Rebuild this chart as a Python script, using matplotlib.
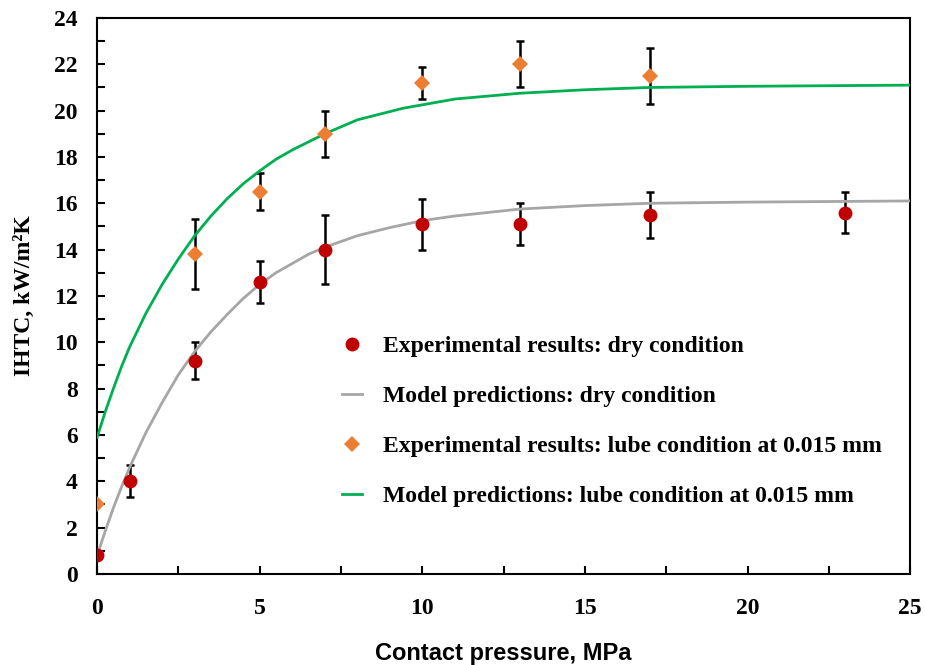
import matplotlib
matplotlib.use('Agg')
import matplotlib.pyplot as plt
from matplotlib.ticker import MultipleLocator

# experimental points: dry condition
dry_p = [0, 1, 3, 5, 7, 10, 13, 17, 23]
dry_h = [0.8, 4.0, 9.2, 12.6, 14.0, 15.1, 15.1, 15.5, 15.6]
dry_lo = [0.0, 0.7, 0.8, 0.9, 1.5, 1.1, 0.9, 1.0, 0.9]
dry_hi = [0.0, 0.7, 0.8, 0.9, 1.5, 1.1, 0.9, 1.0, 0.9]

# experimental points: lube condition
lube_p = [0, 3, 5, 7, 10, 13, 17]
lube_h = [3.0, 13.8, 16.5, 19.0, 21.2, 22.0, 21.5]
lube_err = [0.0, 1.5, 0.8, 1.0, 0.7, 1.0, 1.2]

# model curves
model_dry_p = [0, 0.25, 0.5, 0.75, 1, 1.5, 2, 2.5, 3, 3.5, 4, 4.5, 5, 5.5, 6, 6.5, 7, 8, 9,
               10, 11, 12, 13, 15, 17, 20, 25]
model_dry_h = [0.8, 1.85, 2.85, 3.75, 4.6, 6.1, 7.4, 8.6, 9.6, 10.45, 11.2, 11.9, 12.5,
               13.0, 13.4, 13.8, 14.1, 14.6, 14.95, 15.25, 15.45, 15.6, 15.75, 15.9, 16.0,
               16.05, 16.1]
model_lube_p = [0, 0.25, 0.5, 0.75, 1, 1.5, 2, 2.5, 3, 3.5, 4, 4.5, 5, 5.5, 6, 6.5, 7, 8,
                9.4, 10, 11, 13, 15, 17, 20, 25]
model_lube_h = [5.9, 7.0, 8.0, 8.95, 9.8, 11.25, 12.5, 13.6, 14.6, 15.45, 16.2, 16.85, 17.4,
                17.9, 18.3, 18.65, 19.0, 19.6, 20.1, 20.25, 20.5, 20.75, 20.9, 21.0, 21.05,
                21.1]

serif = 'Liberation Serif'

fig = plt.figure(figsize=(9.25, 6.65), dpi=100)
ax = fig.add_axes([0.105, 0.137, 0.879, 0.836])

ax.errorbar(dry_p, dry_h, yerr=[dry_lo, dry_hi], fmt='none', ecolor='black',
            elinewidth=1.8, capsize=3, capthick=1.8, zorder=2)
ax.errorbar(lube_p, lube_h, yerr=lube_err, fmt='none', ecolor='black',
            elinewidth=1.8, capsize=3, capthick=1.8, zorder=2)

ax.plot(dry_p, dry_h, 'o', color='#C00000', markersize=10, markeredgewidth=0,
        label='Experimental results: dry condition', zorder=4)
ax.plot(model_dry_p, model_dry_h, '-', color='#A6A6A6', linewidth=2,
        label='Model predictions: dry condition', zorder=3)
ax.plot(lube_p, lube_h, 'D', color='#ED7D31', markersize=8, markeredgewidth=0,
        label='Experimental results: lube condition at 0.015 mm', zorder=4)
ax.plot(model_lube_p, model_lube_h, '-', color='#00B050', linewidth=2,
        label='Model predictions: lube condition at 0.015 mm', zorder=3)

ax.set_xlim(0, 25)
ax.set_ylim(0, 24)
ax.xaxis.set_major_locator(MultipleLocator(5))
ax.xaxis.set_minor_locator(MultipleLocator(2.5))
ax.yaxis.set_major_locator(MultipleLocator(2))
ax.yaxis.set_minor_locator(MultipleLocator(1))
ax.tick_params(which='both', direction='in', length=6, width=1.5, top=False, right=False)
ax.tick_params(axis='x', pad=17)
ax.tick_params(axis='y', pad=14)
for lab in ax.get_xticklabels() + ax.get_yticklabels():
    lab.set_fontfamily(serif)
    lab.set_fontweight('bold')
    lab.set_fontsize(17)
for s in ax.spines.values():
    s.set_linewidth(1.5)

ax.set_xlabel('Contact pressure, MPa', fontfamily='Liberation Sans', fontweight='bold',
              fontsize=17, labelpad=17)
ax.set_ylabel('IHTC, kW/m²K', fontfamily=serif, fontweight='bold', fontsize=17, labelpad=14)

ax.legend(loc='upper left', bbox_to_anchor=(0.301, 0.428), frameon=False,
          prop={'family': serif, 'weight': 'bold', 'size': 17},
          labelspacing=1.2, handlelength=0.85, handletextpad=0.9,
          borderpad=0, borderaxespad=0)

plt.savefig('out.png', dpi=100)
